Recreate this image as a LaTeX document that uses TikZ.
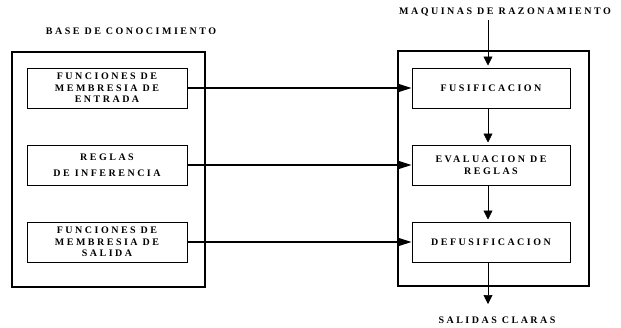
\documentclass[tikz,border=0pt]{standalone}
\usepackage{fontspec}
\setmainfont{Liberation Serif}
\newfontfamily\caja[LetterSpace=25]{Liberation Serif}
\usetikzlibrary{positioning, arrows.meta}
\tikzset{
x=1pt, y=-1pt, % work in points, y going down
marco/.style={draw, line width=1.2pt, minimum width=193pt, minimum height=235pt}, % the two big frames
caja/.style={draw, line width=1pt, minimum width=160pt, minimum height=40pt, align=center,
  inner sep=2pt, font=\caja\bfseries\fontsize{10}{11.5}\selectfont}, % inner blocks
titulo/.style={font=\caja\bfseries\fontsize{10}{11}\selectfont}, % headings
flecha/.style={-{Triangle[length=13pt,width=8pt]}, line width=1.2pt}, % left to right links
baja/.style={-{Triangle[length=9pt,width=9pt]}, line width=0.6pt, shorten >=2pt}, % top to bottom flow
}

\begin{document}
\begin{tikzpicture}
    \useasboundingbox (0,0) rectangle (621,327);
    % knowledge base
    \node[titulo] (bc) at (131,31) {BASE DE CONOCIMIENTO};
    \node[marco] (base) at (108.5,169.5) {};
    \node[caja] (fe) at (107,88) {FUNCIONES DE\\MEMBRESIA DE\\ENTRADA};
    \node[caja] (ri) at (107,165) {REGLAS\\[5pt]DE INFERENCIA};
    \node[caja] (fs) at (107,242) {FUNCIONES DE\\MEMBRESIA DE\\SALIDA};
    % inference engine
    \node[titulo] (mr) at (505,12) {MAQUINAS DE RAZONAMIENTO};
    \node[marco, minimum width=191pt] (maq) at (493.5,168.5) {};
    \node[caja, minimum width=158pt] (fus) at (491,88) {FUSIFICACION};
    \node[caja, minimum width=158pt] (eval) at (491,165) {EVALUACION DE\\REGLAS};
    \node[caja, minimum width=158pt] (defus) at (491,242) {DEFUSIFICACION};
    \coordinate (out) at (488,306);
    \node[titulo] (sc) at (497,320) {SALIDAS CLARAS};
    \draw[flecha] (fe.east) -- (fus.west);
    \draw[flecha] (ri.east) -- (eval.west);
    \draw[flecha] (fs.east) -- (defus.west);
    \draw[baja] (mr.south -| 488,0) -- (488,0 |- fus.north);
    \draw[baja] (488,0 |- fus.south) -- (488,0 |- eval.north);
    \draw[baja] (488,0 |- eval.south) -- (488,0 |- defus.north);
    \draw[baja] (488,0 |- defus.south) -- (out);
\end{tikzpicture}
\end{document}
